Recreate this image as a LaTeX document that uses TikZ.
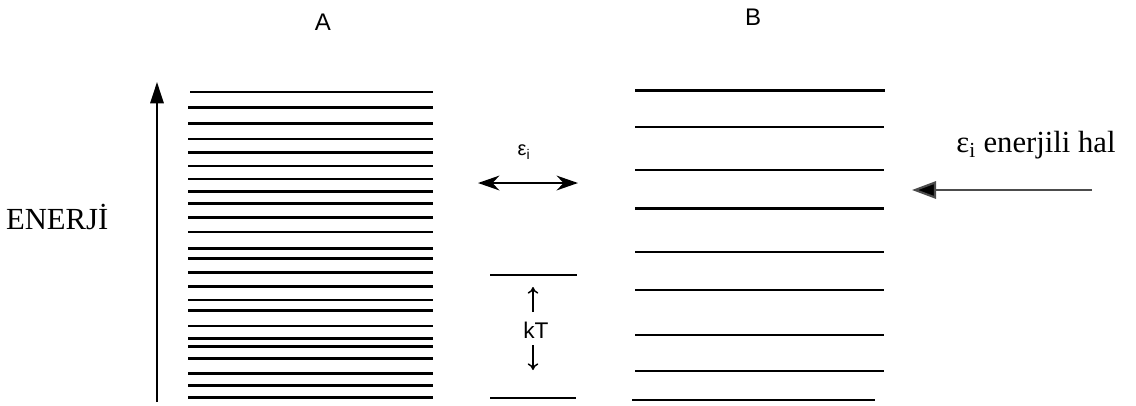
\documentclass[tikz,border=0pt]{standalone}
\usepackage{fontspec}
\setmainfont{Liberation Serif}
\newfontfamily\sansfont{Liberation Sans}
\usepackage{tikz}
\usetikzlibrary{arrows.meta}

\begin{document}
\begin{tikzpicture}[x=0.75pt,y=-0.75pt,
    level/.style={line width=2.2pt},
    thinlevel/.style={line width=1.6pt},
    head/.style={font=\sansfont\fontsize{18}{18}\selectfont},
    small/.style={font=\sansfont\fontsize{17}{17}\selectfont},
    big/.style={font=\fontsize{23}{23}\selectfont}]
    \useasboundingbox (0,0) rectangle (1136,405);

    \node [head] (A) at (323,22) {A};
    \node [head] (B) at (753,17) {B};

    % energy axis
    \coordinate (axisfoot) at (157,402);
    \coordinate (axistip) at (157,82);
    \draw [line width=1.5pt,-{Triangle[length=16pt,width=10pt]}] (axisfoot) -- (axistip);
    \node [big,anchor=base east] (energy) at (113,229) {ENERJİ};

    % levels of A
    \foreach \y in {107.3,123.7,139,152.7,166,179,191.3,203.7,217.3,232,248.3,258.7,272.3,286.7,300,310.7,326,338.7,346.7,358.7,373.3,385.3,397.7}
      \draw [level] (188,\y) -- (433,\y);
    \draw [level] (190,92) -- (433,92);

    % middle
    \coordinate (epsleft) at (478,183);
    \coordinate (epsright) at (578,183);
    \draw [line width=2.2pt,{Stealth[length=16pt,width=11pt]}-{Stealth[length=16pt,width=11pt]}] (epsleft) -- (epsright);
    \node [small,font=\sansfont\fontsize{15}{15}\selectfont] (eps) at (524,152) {ε\textsubscript{i}};

    \draw [level] (490,275) -- (577,275);
    \draw [thinlevel] (490,398) -- (576,398);
    \node [small] (kt) at (536,330) {kT};
    \coordinate (upfoot) at (533,312);
    \coordinate (uptip) at (533,287);
    \coordinate (downfoot) at (533,345);
    \coordinate (downtip) at (533,370);
    \draw [line width=1.1pt,-{To[length=5pt,width=8pt]}] (upfoot) -- (uptip);
    \draw [line width=1.1pt,-{To[length=5pt,width=8pt]}] (downfoot) -- (downtip);

    % levels of B
    \foreach \y in {127.3,170,251.7,290,335,370.7}
      \draw [thinlevel] (635,\y) -- (884,\y);
    \draw [level] (635,90.7) -- (885,90.7);
    \draw [level] (635,208.3) -- (884,208.3);
    \draw [thinlevel] (632,400) -- (875,400);

    % state pointer
    \coordinate (statefoot) at (1092,190);
    \coordinate (statetip) at (912,190);
    \draw [line width=1.6pt,black!70,-{Triangle[length=18pt,width=13pt,fill=black]}] (statefoot) -- (statetip);
    \node [big] (state) at (1036,145) {ε\textsubscript{i} enerjili hal};
\end{tikzpicture}
\end{document}
